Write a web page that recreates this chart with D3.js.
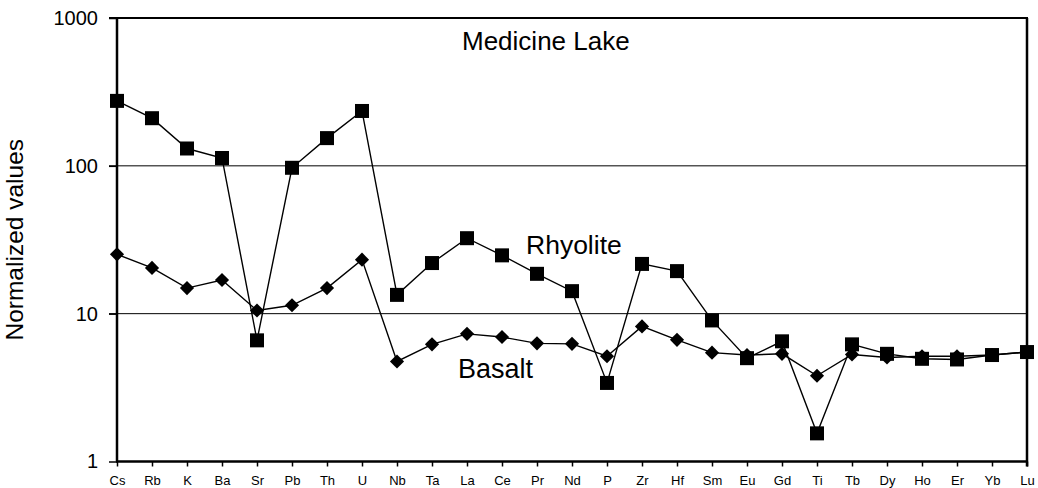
<!DOCTYPE html>
<html>
<head>
<meta charset="utf-8">
<script src="https://cdn.jsdelivr.net/npm/d3@7"></script>
<style>
  body { margin: 0; background: #fff; }
  text { font-family: "Liberation Sans", Arial, sans-serif; fill: #000; }
</style>
</head>
<body>
<div id="chart"></div>
<script>
// data

var elements = ["Cs", "Rb", "K", "Ba", "Sr", "Pb", "Th", "U", "Nb", "Ta", "La", "Ce", "Pr",
    "Nd", "P", "Zr", "Hf", "Sm", "Eu", "Gd", "Ti", "Tb", "Dy", "Ho", "Er", "Yb", "Lu"];

var rhyolite = [275, 210, 131, 113, 6.6, 97, 154, 235, 13.4, 22, 32.4, 24.8, 18.6,
    14.2, 3.4, 21.7, 19.4, 9, 5.0, 6.5, 1.55, 6.2, 5.35, 4.95, 4.9, 5.25, 5.5];

var basalt = [25.2, 20.4, 14.9, 16.9, 10.5, 11.4, 14.9, 23.2, 4.75, 6.2, 7.3, 6.95, 6.3,
    6.25, 5.15, 8.2, 6.65, 5.45, 5.25, 5.35, 3.8, 5.3, 5.05, 5.15, 5.15, 5.25, 5.5];

var yTicks = [1, 10, 100, 1000];
var gridTicks = [10, 100];

// layout

var outerWidth = 1038,
    outerHeight = 488,
    margin = { top: 18, right: 11, bottom: 26.5, left: 117 },
    width = outerWidth - margin.left - margin.right,
    height = outerHeight - margin.top - margin.bottom;

var x = d3.scalePoint()
    .domain(elements)
    .range([0, width]);

var y = d3.scaleLog()
    .domain([1, 1000])
    .range([height, 0]);

var svg = d3.select("#chart")
    .append("svg")
    .attr("width", outerWidth)
    .attr("height", outerHeight)
    .append("g")
    .attr("transform", "translate(" + margin.left + "," + margin.top + ")");

// gridlines at 10 and 100
svg.selectAll(".grid")
    .data(gridTicks)
    .enter()
    .append("line")
    .attr("x1", -8)
    .attr("x2", width)
    .attr("y1", function(d) { return y(d); })
    .attr("y2", function(d) { return y(d); })
    .attr("stroke", "#000")
    .attr("stroke-width", 1);

// frame: top and right
svg.append("line")
    .attr("x1", -8).attr("x2", width + 1)
    .attr("y1", 0).attr("y2", 0)
    .attr("stroke", "#000").attr("stroke-width", 2);

svg.append("line")
    .attr("x1", width).attr("x2", width)
    .attr("y1", 0).attr("y2", height + 5)
    .attr("stroke", "#000").attr("stroke-width", 2.5);

var yAxis = d3.axisLeft(y)
    .tickValues(yTicks)
    .tickSize(8)
    .tickPadding(11)
    .tickFormat(d3.format("d"));

var gY = svg.append("g")
    .attr("class", "y axis")
    .call(yAxis);
gY.select(".domain").remove();
gY.selectAll("line").attr("stroke-width", 1.5);
gY.selectAll("text").style("font-size", "20px");
gY.append("line")
    .attr("x1", 0).attr("x2", 0)
    .attr("y1", 0).attr("y2", height)
    .attr("stroke", "#000").attr("stroke-width", 2.5);

var xAxis = d3.axisBottom(x)
    .tickSize(5)
    .tickPadding(11);

var gX = svg.append("g")
    .attr("class", "x axis")
    .attr("transform", "translate(0," + height + ")")
    .call(xAxis);
gX.select(".domain").remove();
gX.selectAll("line").attr("stroke-width", 1.5);
gX.selectAll("text")
    .attr("dy", "0.6em")
    .style("font-size", "13px");
gX.append("line")
    .attr("x1", -1).attr("x2", width + 1)
    .attr("y1", 0).attr("y2", 0)
    .attr("stroke", "#000").attr("stroke-width", 2.5);

// series
var line = d3.line()
    .x(function(d, i) { return x(elements[i]); })
    .y(function(d) { return y(d); });

svg.append("path")
    .datum(basalt)
    .attr("d", line)
    .attr("fill", "none")
    .attr("stroke", "#000")
    .attr("stroke-width", 1.4);

svg.selectAll(".diamond")
    .data(basalt)
    .enter()
    .append("path")
    .attr("class", "diamond")
    .attr("d", d3.symbol().type(d3.symbolDiamond2).size(128))
    .attr("transform", function(d, i) { return "translate(" + x(elements[i]) + "," + y(d) + ")"; })
    .attr("fill", "#000");

svg.append("path")
    .datum(rhyolite)
    .attr("d", line)
    .attr("fill", "none")
    .attr("stroke", "#000")
    .attr("stroke-width", 1.4);

svg.selectAll(".square")
    .data(rhyolite)
    .enter()
    .append("rect")
    .attr("class", "square")
    .attr("x", function(d, i) { return x(elements[i]) - 7; })
    .attr("y", function(d) { return y(d) - 7; })
    .attr("width", 14)
    .attr("height", 14)
    .attr("fill", "#000");

// annotations
svg.append("text")
    .attr("x", 345)
    .attr("y", 32)
    .style("font-size", "26px")
    .text("Medicine Lake");

svg.append("text")
    .attr("x", 409)
    .attr("y", 236)
    .style("font-size", "26.5px")
    .text("Rhyolite");

svg.append("text")
    .attr("x", 341)
    .attr("y", 359.5)
    .style("font-size", "27px")
    .text("Basalt");

svg.append("text")
    .attr("transform", "translate(" + (-94) + "," + (height / 2) + ") rotate(-90)")
    .attr("text-anchor", "middle")
    .style("font-size", "24.5px")
    .text("Normalized values");
</script>
</body>
</html>
